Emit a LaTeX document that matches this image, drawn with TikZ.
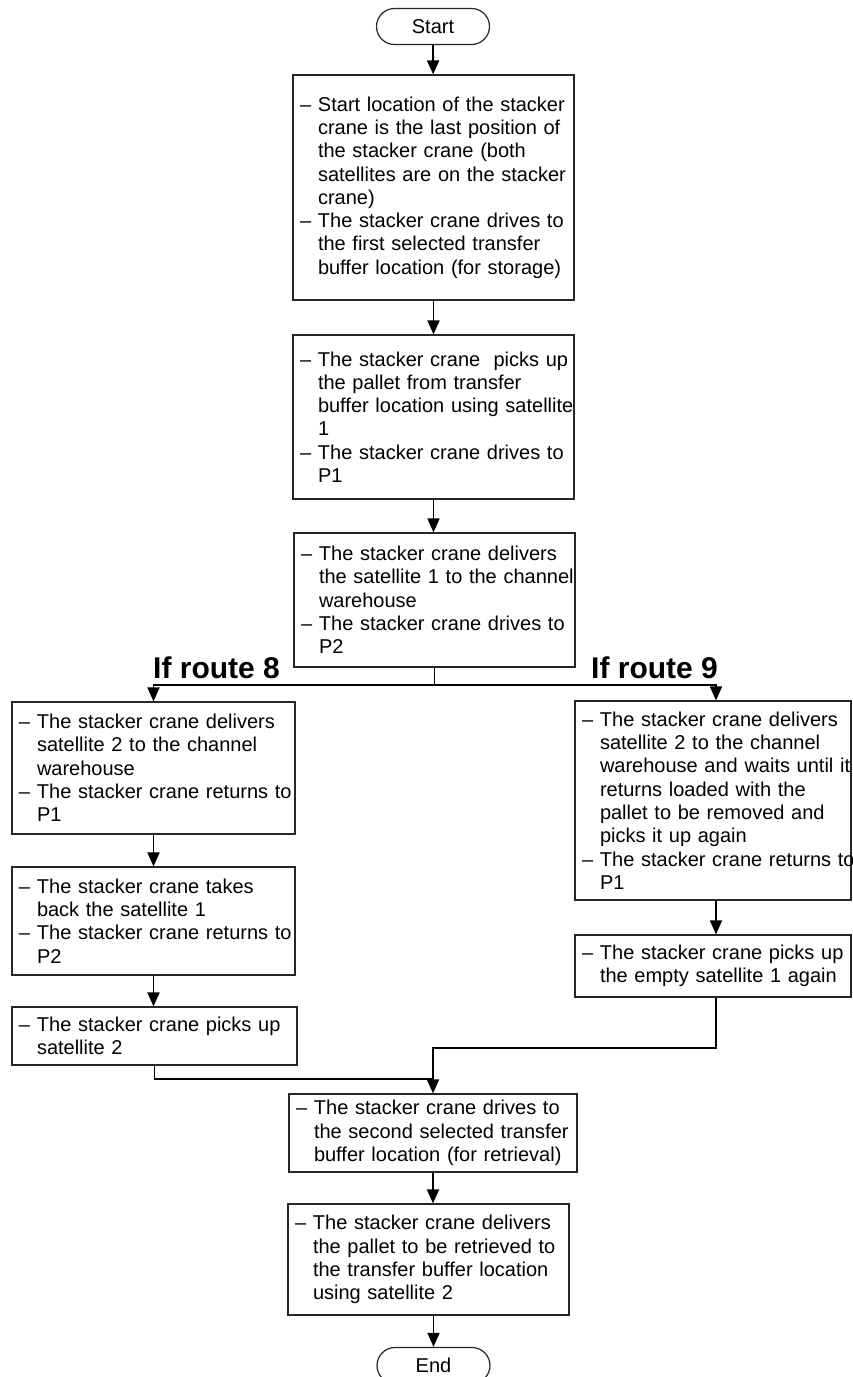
\documentclass[tikz,border=0pt]{standalone}
\usepackage{fontspec}
\setmainfont{Liberation Sans}
\usetikzlibrary{arrows.meta}

% one unbreakable line with a leading dash, and one hanging continuation line
\newcommand{\dl}[1]{\mbox{\makebox[18pt][l]{–}#1}}
\newcommand{\il}[1]{\mbox{\hspace*{18pt}#1}}

\tikzset{
  stepbox/.style={draw=black!85, line width=1.2pt, fill=white,
    align=left, inner xsep=7pt, inner ysep=0pt,
    font=\fontsize{20pt}{23.3pt}\selectfont},
  term/.style={draw=black!85, line width=1.2pt, rounded corners=18pt,
    minimum width=113pt, minimum height=36pt, inner sep=0pt,
    font=\fontsize{20pt}{23.3pt}\selectfont},
  routelbl/.style={inner sep=0pt, font=\fontsize{30pt}{34pt}\selectfont\bfseries},
  conn/.style={line width=1.8pt, black},
  arr/.style={conn, -{Triangle[width=12pt,length=14pt]}}
}

\begin{document}
\begin{tikzpicture}[x=1pt, y=-1pt]
\useasboundingbox (0,0) rectangle (853,1377);

\node[term] (start) at (433,26.5) {Start};

\node[stepbox, text width=267pt, minimum height=225pt] (b1) at (433.5,187.5) {%
\dl{Start location of the stacker}\\
\il{crane is the last position of}\\
\il{the stacker crane (both}\\
\il{satellites are on the stacker}\\
\il{crane)}\\
\dl{The stacker crane drives to}\\
\il{the first selected transfer}\\
\il{buffer location (for storage)}};

\node[stepbox, text width=267pt, minimum height=164pt] (b2) at (433.5,417) {%
\dl{The stacker crane\ \ picks up}\\
\il{the pallet from transfer}\\
\il{buffer location using satellite}\\
\il{1}\\
\dl{The stacker crane drives to}\\
\il{P1}};

\node[stepbox, text width=267pt, minimum height=134pt] (b3) at (434.5,600) {%
\dl{The stacker crane delivers}\\
\il{the satellite 1 to the channel}\\
\il{warehouse}\\
\dl{The stacker crane drives to}\\
\il{P2}};

\node[routelbl, anchor=base west] (lbl8) at (153,678) {If route 8};
\node[routelbl, anchor=base west] (lbl9) at (591,678) {If route 9};

\node[stepbox, text width=269pt, minimum height=132pt] (l1) at (153.5,768) {%
\dl{The stacker crane delivers}\\
\il{satellite 2 to the channel}\\
\il{warehouse}\\
\dl{The stacker crane returns to}\\
\il{P1}};

\node[stepbox, text width=269pt, minimum height=108pt] (l2) at (153.5,921) {%
\dl{The stacker crane takes}\\
\il{back the satellite 1}\\
\dl{The stacker crane returns to}\\
\il{P2}};

\node[stepbox, text width=271pt, minimum height=58pt] (l3) at (154.5,1036) {%
\dl{The stacker crane picks up}\\
\il{satellite 2}};

\node[stepbox, text width=262pt, minimum height=199pt] (r1) at (713,800.5) {%
\dl{The stacker crane delivers}\\
\il{satellite 2 to the channel}\\
\il{warehouse and waits until it}\\
\il{returns loaded with the}\\
\il{pallet to be removed and}\\
\il{picks it up again}\\
\dl{The stacker crane returns to}\\
\il{P1}};

\node[stepbox, text width=262pt, minimum height=62pt] (r2) at (713,966) {%
\dl{The stacker crane picks up}\\
\il{the empty satellite 1 again}};

\node[stepbox, text width=274pt, minimum height=78pt] (b6) at (433,1133) {%
\dl{The stacker crane drives to}\\
\il{the second selected transfer}\\
\il{buffer location (for retrieval)}};

\node[stepbox, text width=267pt, minimum height=111pt] (b7) at (428.5,1259.5) {%
\dl{The stacker crane delivers}\\
\il{the pallet to be retrieved to}\\
\il{the transfer buffer location}\\
\il{using satellite 2}};

\node[term] (end) at (433.5,1365.5) {End};

% main line
\draw[arr] (start) -- (b1);
\draw[arr] (b1) -- (b2);
\draw[arr] (b2.south) -- (b2.south |- b3.north);

% branching into the two routes
\draw[conn] (b3.south) -- ++(0,17) coordinate (split);
\draw[arr] (split) -| (l1.north);
\draw[arr] (split) -| ([xshift=3pt]r1.north);

% route 8
\draw[arr] (l1) -- (l2);
\draw[arr] (l2.south) -- (l2.south |- l3.north);

% route 9
\draw[arr] ([xshift=3pt]r1.south) -- ([xshift=3pt]r2.north);

% joining again
\draw[conn] (l3.south) -- ++(0,13) coordinate (jl) -- (jl -| b6.north);
\draw[arr] ([xshift=3pt]r2.south) -- ++(0,50) -| (b6.north);

\draw[arr] (b6.south) -- (b6.south |- b7.north);
\draw[arr] (end.north |- b7.south) -- (end.north);
\end{tikzpicture}
\end{document}
